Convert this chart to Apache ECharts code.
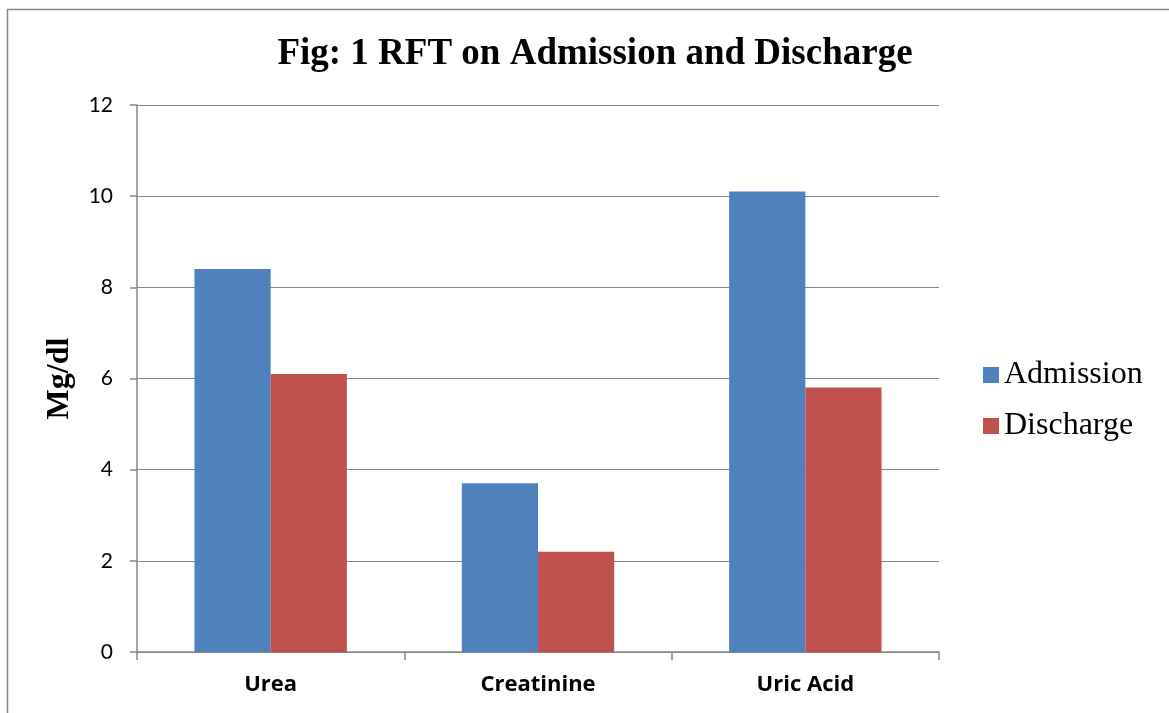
<!DOCTYPE html>
<html>
<head>
<meta charset="utf-8">
<script src="https://cdn.jsdelivr.net/npm/echarts@6/dist/echarts.min.js"></script>
<style>
html,body{margin:0;padding:0;background:#fff;}
#c{width:1169px;height:713px;}
</style>
</head>
<body>
<div id="c"></div>
<script>
const categories = ['Urea', 'Creatinine', 'Uric Acid'];
const admission = [8.4, 3.7, 10.1];
const discharge = [6.1, 2.2, 5.8];
const yTicks = [0, 2, 4, 6, 8, 10, 12];

const chart = echarts.init(document.getElementById('c'));
chart.setOption({
  animation: false,
  backgroundColor: '#fff',
  graphic: [{
    type: 'rect',
    shape: {x: 7.5, y: 9.5, width: 1300, height: 900},
    style: {fill: 'none', stroke: '#868686', lineWidth: 1.5},
    silent: true
  }],
  title: {
    text: 'Fig: 1 RFT on Admission and Discharge',
    left: 590, top: 31, textAlign: 'center',
    textStyle: {fontFamily: 'Liberation Serif', fontWeight: 'bold', fontSize: 37, color: '#000'}
  },
  legend: {
    orient: 'vertical',
    left: 983, top: 359,
    padding: 0,
    itemWidth: 16, itemHeight: 16, itemGap: 19,
    icon: 'rect',
    textStyle: {fontFamily: 'Liberation Serif', fontSize: 32, color: '#000'},
    data: ['Admission', 'Discharge']
  },
  grid: {left: 137, right: 230, top: 105, bottom: 61, containLabel: false},
  xAxis: {
    type: 'category',
    data: categories,
    axisLine: {lineStyle: {color: '#868686', width: 1.5}},
    axisTick: {show: true, alignWithLabel: false, length: 8, lineStyle: {color: '#868686', width: 1.5}},
    axisLabel: {fontFamily: 'Open Sans', fontWeight: 'bold', fontSize: 22, color: '#000', margin: 22}
  },
  yAxis: {
    type: 'value',
    min: 0, max: 12, interval: 2,
    name: 'Mg/dl',
    nameLocation: 'middle',
    nameGap: 61,
    nameRotate: 90,
    nameTextStyle: {fontFamily: 'Liberation Serif', fontWeight: 'bold', fontSize: 32, color: '#000'},
    axisLine: {show: true, lineStyle: {color: '#868686', width: 1.5}},
    axisTick: {show: true, length: 7, lineStyle: {color: '#868686', width: 1.5}},
    splitLine: {lineStyle: {color: '#868686', width: 1.2}},
    axisLabel: {
      fontFamily: 'Lato', fontSize: 21, color: '#000', margin: 24,
      formatter: v => yTicks.includes(v) ? String(v) : ''
    }
  },
  series: [
    {name: 'Admission', type: 'bar', data: admission, barGap: '0%', barCategoryGap: '43%',
     itemStyle: {color: '#4F81BD'}},
    {name: 'Discharge', type: 'bar', data: discharge, barGap: '0%', barCategoryGap: '43%',
     itemStyle: {color: '#C0504D'}}
  ]
});
</script>
</body>
</html>
